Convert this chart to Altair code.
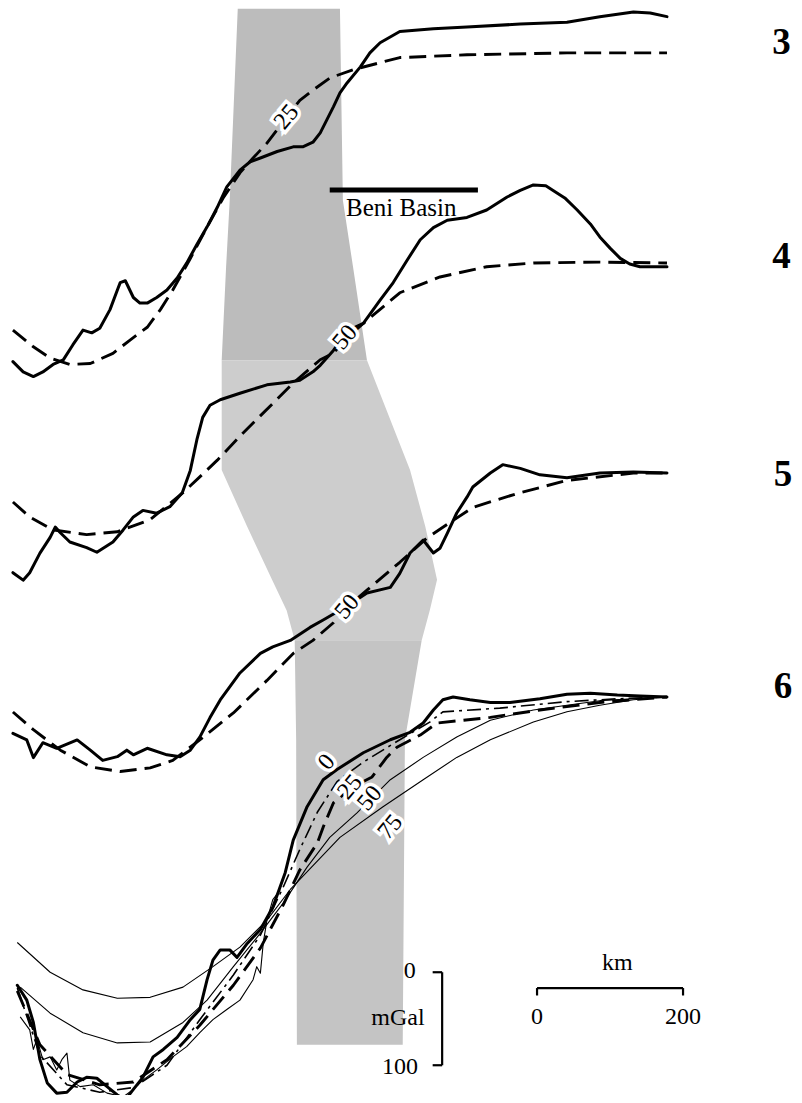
import altair as alt
import pandas as pd

# ---------------- data (x: distance along profile in km, y: Bouguer anomaly in mGal
# relative to the far-field (right-hand) model level of each profile) ----------------

# profile vertical offsets (mGal) used to stack the profiles
offsets = {"3": 1120.5, "4": 894.6, "5": 668.8, "6": 428.0}

p3_obs_km = [4, 18, 32, 45, 59, 73, 86, 100, 112, 123, 137, 148, 151, 158, 169, 178, 188, 201, 215, 229,
             242, 256, 270, 284, 297, 315, 329, 343, 366, 388, 401, 415, 425, 434, 443, 452, 462, 480,
             493, 507, 525, 534, 580, 626, 699, 763, 808, 854, 877, 900]
p3_obs_mgal = [-332, -343, -348, -343, -335, -330, -314, -298, -301, -296, -276, -253, -247, -245, -263,
               -269, -269, -263, -255, -242, -226, -206, -187, -166, -144, -126, -117, -113, -106, -101,
               -101, -96, -86, -72, -58, -43, -32, -15, 0, 11, 19, 23, 26, 28, 31, 33, 39, 44, 43, 39]
p3_mod_km = [4, 32, 55, 82, 110, 141, 164, 188, 206, 223, 247, 270, 292, 315, 333, 352, 379, 397, 415,
             438, 470, 534, 626, 763, 900]
p3_mod_mgal = [-298, -316, -328, -335, -334, -323, -309, -295, -276, -255, -221, -187, -156, -129, -113,
               -97, -69, -51, -40, -27, -18, -5, -2, 0, 0]

p4_obs_km = [4, 18, 27, 41, 55, 62, 69, 82, 105, 119, 141, 155, 169, 182, 201, 219, 236, 247, 256, 264,
             274, 288, 315, 352, 384, 397, 415, 425, 443, 459, 473, 484, 507, 525, 544, 562, 580, 599,
             626, 653, 681, 699, 717, 734, 744, 760, 777, 795, 808, 822, 836, 849, 863, 900]
p4_obs_mgal = [-333, -341, -333, -312, -295, -284, -290, -300, -306, -311, -300, -287, -273, -266, -269,
               -262, -247, -223, -190, -166, -153, -147, -140, -131, -128, -126, -117, -110, -94, -77,
               -69, -65, -40, -21, 3, 25, 38, 46, 49, 57, 71, 78, 84, 83, 78, 70, 57, 42, 28, 16, 5,
               -1, -4, -4]
p4_mod_km = [4, 27, 59, 105, 147, 192, 237, 260, 284, 319, 360, 388, 425, 443, 462, 484, 534, 589, 653,
             717, 808, 900]
p4_mod_mgal = [-257, -273, -287, -292, -289, -276, -247, -230, -212, -183, -151, -129, -104, -97, -80,
               -65, -32, -15, -4, 0, 1, 0]

p5_obs_km = [4, 23, 32, 45, 64, 92, 110, 127, 147, 160, 169, 188, 215, 233, 247, 260, 274, 288, 315,
             343, 360, 384, 411, 429, 462, 489, 521, 534, 548, 566, 580, 589, 599, 612, 626, 634, 658,
             675, 699, 726, 763, 808, 854, 900]
p5_obs_mgal = [-280, -287, -306, -290, -296, -287, -298, -309, -305, -298, -303, -296, -303, -305, -298,
               -284, -263, -244, -215, -194, -187, -180, -166, -158, -143, -129, -123, -108, -86, -72,
               -86, -81, -65, -43, -26, -15, 0, 9, 5, -2, -5, 0, 1, 0]
p5_mod_km = [4, 32, 69, 110, 151, 192, 223, 260, 306, 352, 388, 415, 443, 462, 489, 534, 571, 607, 634,
             695, 763, 854, 900]
p5_mod_mgal = [-257, -276, -298, -316, -321, -317, -309, -287, -258, -223, -194, -180, -161, -144, -126,
               -96, -70, -51, -37, -22, -8, 0, 0]

p6_obs_km = [10, 23, 32, 41, 51, 64, 78, 92, 105, 119, 133, 147, 158, 169, 182, 196, 210, 229, 247, 260,
             270, 278, 288, 301, 311, 325, 343, 360, 377, 388, 407, 429, 448, 484, 521, 548, 566, 580,
             593, 607, 630, 658, 685, 726, 763, 795, 832, 863, 900]
p6_obs_mgal = [-310, -326, -350, -390, -415, -426, -425, -414, -409, -410, -419, -428, -433, -422, -409,
               -387, -379, -366, -347, -336, -304, -283, -272, -272, -280, -265, -250, -226, -189, -154,
               -118, -89, -78, -60, -46, -38, -28, -14, -3, 0, -3, -6, -6, -2, 3, 4, 2, 1, 0]
p6_obs2_km = [14, 27, 32, 37, 45, 55, 64, 71, 78, 82, 96, 114, 133, 155, 169, 182, 201, 223, 242, 260,
              278, 297, 315, 333, 338, 343, 347, 352, 360, 370]
p6_obs2_mgal = [-344, -358, -379, -368, -390, -387, -401, -390, -383, -412, -419, -417, -426, -430, -422,
                -412, -401, -387, -376, -361, -347, -336, -326, -304, -290, -297, -264, -240, -218, -208]
p6_m0_km = [10, 41, 78, 123, 169, 215, 260, 306, 343, 374, 397, 421, 448, 484, 534, 575, 593, 671, 763,
            832, 900]
p6_m0_mgal = [-313, -385, -417, -425, -420, -396, -347, -299, -256, -205, -164, -124, -91, -70, -46, -27,
              -16, -12, -5, -2, 0]
p6_m25_km = [10, 41, 78, 123, 169, 215, 260, 306, 343, 374, 397, 421, 429, 443, 469, 496, 516, 530, 562,
             585, 658, 726, 808, 900]
p6_m25_mgal = [-316, -374, -406, -417, -414, -390, -353, -310, -270, -224, -186, -157, -140, -114, -97,
               -86, -65, -54, -41, -28, -22, -14, -6, 0]
p6_m50_km = [14, 55, 100, 147, 192, 237, 270, 306, 343, 374, 407, 438, 475, 521, 566, 612, 658, 717, 763,
             808, 854, 900]
p6_m50_mgal = [-312, -340, -361, -372, -371, -350, -326, -290, -254, -222, -183, -151, -125, -89, -65,
               -43, -25, -14, -9, -4, -2, 0]
p6_m75_km = [10, 55, 100, 147, 192, 237, 278, 315, 352, 384, 452, 511, 566, 612, 658, 717, 763, 808, 854,
             900]
p6_m75_mgal = [-264, -296, -315, -324, -323, -312, -290, -269, -240, -207, -151, -118, -89, -65, -46,
               -27, -16, -9, -3, 0]

# model labels on the curves (profile, text, km, mGal)
lab_profile = ["3", "4", "5", "6", "6", "6", "6"]
lab_text = ["25", "50", "50", "0", "25", "50", "75"]
lab_km = [379, 459, 462, 434, 466, 493, 521]
lab_mgal = [-69, -80, -144, -70, -97, -109, -140]

# shaded zone in three parts (absolute plot units): level, left km, right km
band_top_y = [790, 890, 962, 1168]
band_top_left = [290, 296, 301, 312]
band_top_right = [489, 470, 456, 452]
band_mid_y = [489, 521, 554, 611, 672, 790]
band_mid_left = [390, 379, 359, 325, 290, 290]
band_mid_right = [564, 575, 585, 569, 548, 489]
band_bot_y = [54, 382, 489]
band_bot_left = [393, 392, 390]
band_bot_right = [538, 541, 564]

# profile numbers (absolute plot units)
num_text = ["3", "4", "5", "6"]
num_km = [1057, 1057, 1059, 1059]
num_y = [1131, 901, 667, 439]

# ---------------- build tables ----------------
series = [
    ("p3o", "3", "heavy", p3_obs_km, p3_obs_mgal),
    ("p3m", "3", "dash", p3_mod_km, p3_mod_mgal),
    ("p4o", "4", "heavy", p4_obs_km, p4_obs_mgal),
    ("p4m", "4", "dash", p4_mod_km, p4_mod_mgal),
    ("p5o", "5", "heavy", p5_obs_km, p5_obs_mgal),
    ("p5m", "5", "dash", p5_mod_km, p5_mod_mgal),
    ("p6o", "6", "heavy", p6_obs_km, p6_obs_mgal),
    ("p6o2", "6", "thin", p6_obs2_km, p6_obs2_mgal),
    ("p6m0", "6", "dashdot", p6_m0_km, p6_m0_mgal),
    ("p6m25", "6", "dash", p6_m25_km, p6_m25_mgal),
    ("p6m50", "6", "thin", p6_m50_km, p6_m50_mgal),
    ("p6m75", "6", "thin", p6_m75_km, p6_m75_mgal),
]
rows = []
for name, prof, style, xs, ys in series:
    for i, (xv, yv) in enumerate(zip(xs, ys)):
        rows.append({"s": name, "style": style, "i": i, "km": xv, "y": yv + offsets[prof]})
lines = pd.DataFrame(rows)

labels = pd.DataFrame({
    "t": lab_text, "km": lab_km,
    "y": [m + offsets[p] for p, m in zip(lab_profile, lab_mgal)],
})
nums = pd.DataFrame({"t": num_text, "km": num_km, "y": num_y})

XS = alt.Scale(domain=[-2.74, 1074.0], nice=False, zero=False)
YS = alt.Scale(domain=[0, 1168.8], nice=False, zero=False)

def X(f="km"):
    return alt.X(f"{f}:Q", scale=XS, axis=None)

def Y(f="y"):
    return alt.Y(f"{f}:Q", scale=YS, axis=None)

def band_part(ys, left, right, col):
    # closed outline: up the left edge, back down the right edge
    px = left + right[::-1]
    py = ys + ys[::-1]
    df = pd.DataFrame({"km": px, "y": py, "i": range(len(px))})
    return alt.Chart(df).mark_line(color=col, fill=col, strokeWidth=0.8, filled=True).encode(
        x=X(), y=Y(), order="i:Q")

band_layers = [
    band_part(band_top_y, band_top_left, band_top_right, "#bcbcbc"),
    band_part(band_mid_y, band_mid_left, band_mid_right, "#cdcdcd"),
    band_part(band_bot_y, band_bot_left, band_bot_right, "#c4c4c4"),
]

def line_layer(style, **kw):
    return alt.Chart(lines).transform_filter(alt.datum.style == style).mark_line(
        color="black", strokeJoin="round", **kw).encode(
        x=X(), y=Y(), detail="s:N", order="i:Q")

heavy = line_layer("heavy", strokeWidth=3.0, strokeCap="round")
dash = line_layer("dash", strokeWidth=2.9, strokeDash=[17, 8])
thin = line_layer("thin", strokeWidth=1.1)
dashdot = line_layer("dashdot", strokeWidth=1.6, strokeDash=[14, 5, 3, 5])

lab_halo = alt.Chart(labels).mark_text(font="Liberation Serif", fontSize=24, angle=310,
                                       stroke="white", strokeWidth=7, fill="white").encode(
    x=X(), y=Y(), text="t:N")
lab_txt = alt.Chart(labels).mark_text(font="Liberation Serif", fontSize=24, angle=310,
                                      color="black").encode(x=X(), y=Y(), text="t:N")

num_layer = alt.Chart(nums).mark_text(font="Liberation Serif", fontSize=37, fontWeight="bold",
                                      color="black", baseline="middle").encode(
    x=X(), y=Y(), text="t:N")

# Beni Basin bar and label
beni = pd.DataFrame({"x1": [438], "x2": [641], "y": [973]})
beni_bar = alt.Chart(beni).mark_rule(strokeWidth=5, color="black").encode(x=X("x1"), x2="x2:Q", y=Y())
beni_txt = alt.Chart(pd.DataFrame({"t": ["Beni Basin"], "km": [536], "y": [954]})).mark_text(
    font="Liberation Serif", fontSize=25, color="black", baseline="middle").encode(x=X(), y=Y(), text="t:N")

# mGal scale bar
mg_v = pd.DataFrame({"x": [592], "y1": [132], "y2": [32]})
mg_vert = alt.Chart(mg_v).mark_rule(strokeWidth=2.2, color="black").encode(x=X("x"), y=Y("y1"), y2="y2:Q")
mg_t = pd.DataFrame({"x1": [579, 579], "x2": [592, 592], "y": [132, 32]})
mg_ticks = alt.Chart(mg_t).mark_rule(strokeWidth=2.2, color="black").encode(x=X("x1"), x2="x2:Q", y=Y())
mg_lab = pd.DataFrame({"t": ["0", "mGal", "100"], "km": [556, 568, 559], "y": [133, 83, 30]})
mg_text = alt.Chart(mg_lab).mark_text(font="Liberation Serif", fontSize=24, align="right",
                                      baseline="middle", color="black").encode(x=X(), y=Y(), text="t:N")

# km scale bar
km_h = alt.Chart(pd.DataFrame({"x1": [722], "x2": [922], "y": [115]})).mark_rule(
    strokeWidth=2.2, color="black").encode(x=X("x1"), x2="x2:Q", y=Y())
km_t = alt.Chart(pd.DataFrame({"x": [722, 922], "y1": [115, 115], "y2": [107, 107]})).mark_rule(
    strokeWidth=2.2, color="black").encode(x=X("x"), y=Y("y1"), y2="y2:Q")
km_lab = pd.DataFrame({"t": ["km", "0", "200"], "km": [832, 722, 922], "y": [142, 84, 84]})
km_text = alt.Chart(km_lab).mark_text(font="Liberation Serif", fontSize=24, baseline="middle",
                                      color="black").encode(x=X(), y=Y(), text="t:N")

chart = alt.layer(
    *band_layers, thin, dashdot, dash, heavy, lab_halo, lab_txt, num_layer,
    beni_bar, beni_txt, mg_vert, mg_ticks, mg_text, km_h, km_t, km_text
).properties(width=786, height=1087, padding=0, autosize="none",
             background="white").configure_view(stroke=None)

chart.save("out.html", embed_options={"renderer": "svg", "actions": False})
